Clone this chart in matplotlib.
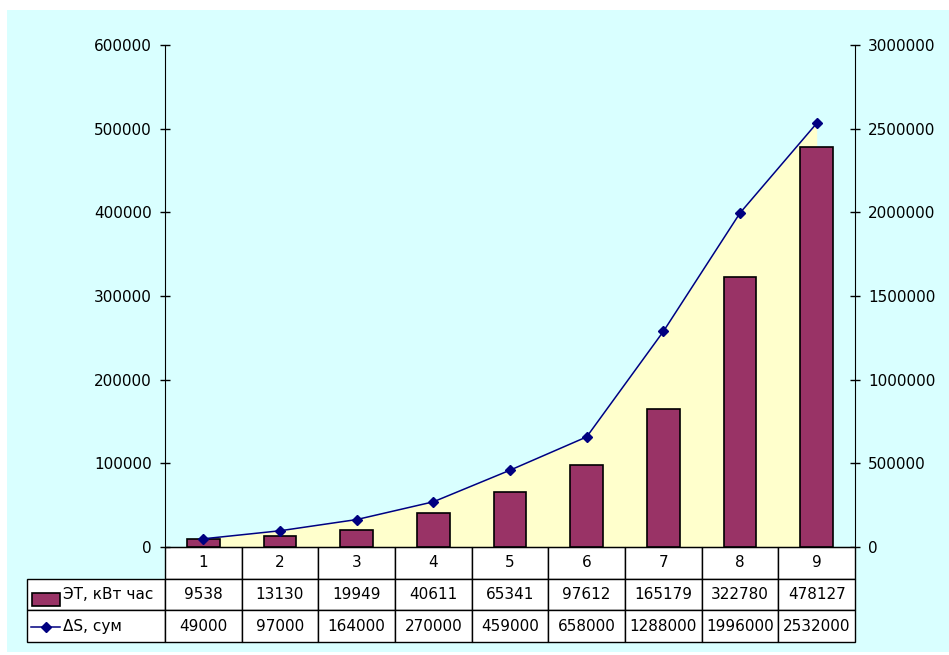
import matplotlib
matplotlib.use("Agg")
import matplotlib.pyplot as plt
from matplotlib.patches import Rectangle
from matplotlib.lines import Line2D
from matplotlib.ticker import MultipleLocator, FuncFormatter

categories = ["1", "2", "3", "4", "5", "6", "7", "8", "9"]
et_values = [9538, 13130, 19949, 40611, 65341, 97612, 165179, 322780, 478127]
ds_values = [49000, 97000, 164000, 270000, 459000, 658000, 1288000, 1996000, 2532000]
et_label = "ЭТ, кВт час"
ds_label = "ΔS, сум"

W, H = 949, 655
plt.rcParams['font.family'] = ['DejaVu Sans']
fig = plt.figure(figsize=(W / 100, H / 100), dpi=100, facecolor='white')

def fx(x):
    return x / W

def fy(y):
    return 1 - y / H

# chart area background
fig.patches.append(Rectangle((fx(7), fy(652)), fx(949) - fx(7), fy(10) - fy(652),
                             transform=fig.transFigure, facecolor='#D9FFFF',
                             edgecolor='none', zorder=0))

pos = [fx(165), fy(547), fx(855) - fx(165), fy(45) - fy(547)]
ax1 = fig.add_axes(pos)
ax2 = ax1.twinx()
ax3 = ax1.twinx()
ax2.set_zorder(1)
ax1.set_zorder(2)
ax3.set_zorder(3)
for a in (ax1, ax2, ax3):
    a.patch.set_visible(False)

x = list(range(len(categories)))

# area fill (right axis)
ax2.fill_between(x, ds_values, 0, color='#FFFFCC', linewidth=0)
# bars (left axis)
ax1.bar(x, et_values, width=0.43, color='#993366', edgecolor='black', linewidth=1.2)
# line (right axis scale)
ax3.plot(x, ds_values, color='#000080', linewidth=1.1, marker='D', markersize=5.5,
         markerfacecolor='#000080', markeredgecolor='#000080')

ax1.set_xlim(-0.5, len(categories) - 0.5)
ax1.set_ylim(0, 600000)
ax2.set_ylim(0, 3000000)
ax3.set_ylim(0, 3000000)

fmt = FuncFormatter(lambda v, p: f"{int(v)}")
ax1.yaxis.set_major_locator(MultipleLocator(100000))
ax1.yaxis.set_major_formatter(fmt)
ax2.yaxis.set_major_locator(MultipleLocator(500000))
ax2.yaxis.set_major_formatter(fmt)

ax1.tick_params(axis='y', direction='inout', length=7, width=1, labelsize=11, pad=6)
ax2.tick_params(axis='y', direction='inout', length=7, width=1, labelsize=11, pad=6)
ax1.tick_params(axis='x', bottom=False, labelbottom=False)
ax2.tick_params(axis='x', bottom=False, labelbottom=False)

for a in (ax1, ax2, ax3):
    for s in a.spines.values():
        s.set_visible(False)
ax1.spines['left'].set_visible(True)
ax1.spines['bottom'].set_visible(True)
ax2.spines['right'].set_visible(True)
ax3.set_yticks([])
ax3.tick_params(axis='both', which='both', left=False, right=False, bottom=False,
                labelleft=False, labelright=False, labelbottom=False)

# data table below the axes; row-label column sits to the left of the plot
ax_w = 690.0
ax_h = 502.0
tbl = ax1.table(cellText=[[str(v) for v in et_values], [str(v) for v in ds_values]],
                rowLabels=[et_label, ds_label], colLabels=categories,
                cellLoc='center', rowLoc='left', colLoc='center', loc='bottom')
tbl.auto_set_font_size(False)
tbl.set_fontsize(11)
row_h = (95 / 3) / ax_h
for (r, c), cell in tbl.get_celld().items():
    cell.set_facecolor('white')
    cell.set_edgecolor('black')
    cell.set_linewidth(1.0)
    cell.set_height(row_h)
    if c == -1:
        cell.set_width(140 / ax_w)
        cell.PAD = 37 / 140
    else:
        cell.set_width(1 / len(categories))

# legend keys in row-label cells
fig.patches.append(Rectangle((fx(32), fy(606)), fx(60) - fx(32), fy(593) - fy(606),
                             transform=fig.transFigure, facecolor='#993366',
                             edgecolor='black', linewidth=1.2, zorder=10))
fig.lines.append(Line2D([fx(31), fx(60)], [fy(627), fy(627)], transform=fig.transFigure,
                        color='#000080', linewidth=1.1, zorder=10))
fig.lines.append(Line2D([fx(46)], [fy(627)], transform=fig.transFigure, marker='D',
                        markersize=5.5, color='#000080', zorder=10))

fig.savefig("out.png", dpi=100, facecolor='white')
